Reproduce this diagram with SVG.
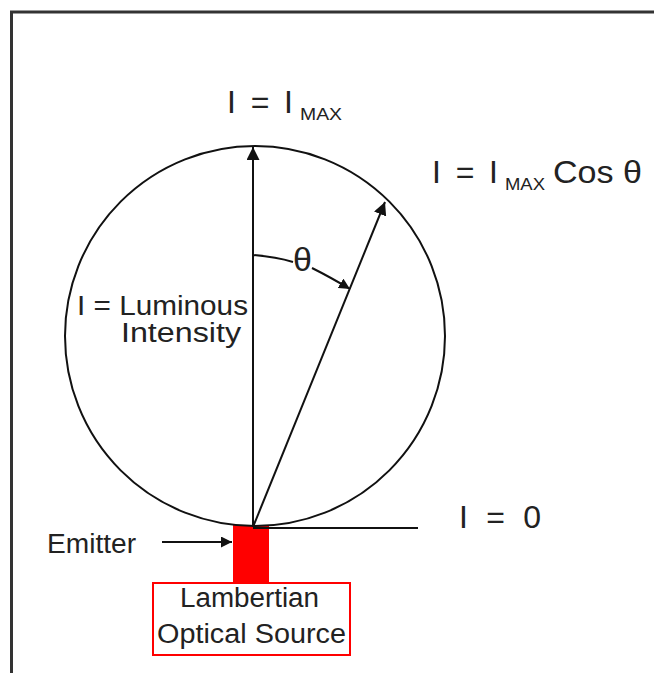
<svg xmlns="http://www.w3.org/2000/svg" width="654" height="673" viewBox="0 0 654 673">
  <defs>
    <marker id="ah" markerUnits="userSpaceOnUse" markerWidth="13" markerHeight="13" viewBox="0 0 12 12" refX="12" refY="6" orient="auto">
      <path d="M0,0 L12,6 L0,12 z" fill="#111"/>
    </marker>
    <marker id="ahs" markerUnits="userSpaceOnUse" markerWidth="11" markerHeight="11" viewBox="0 0 12 12" refX="12" refY="6" orient="auto">
      <path d="M0,0 L12,6 L0,12 z" fill="#111"/>
    </marker>
  </defs>
  <style>
    .ln { stroke: #111; stroke-width: 2; fill: none; }
    .big { font-family: "Liberation Sans", Arial, sans-serif; font-size: 32px; fill: #222; }
    .sub { font-family: "Liberation Sans", Arial, sans-serif; font-size: 17px; fill: #222; }
    .lbl { font-family: "Liberation Sans", Arial, sans-serif; font-size: 27px; fill: #222; }
  </style>
  <rect width="654" height="673" fill="#fff"/>
  <rect x="11.5" y="12" width="700" height="700" fill="none" stroke="#333" stroke-width="3"/>

  <g id="source">
    <rect x="233" y="525" width="36" height="58" fill="#ff0000"/>
    <rect x="153" y="583" width="197" height="72" fill="#fff" stroke="#ff0000" stroke-width="2"/>
    <text class="lbl" x="180" y="607" textLength="139" lengthAdjust="spacingAndGlyphs">Lambertian</text>
    <text class="lbl" x="157" y="643" textLength="189" lengthAdjust="spacingAndGlyphs">Optical Source</text>
  </g>

  <g id="circle">
    <circle cx="255" cy="336" r="190" class="ln"/>
  </g>

  <g id="connectors">
    <line x1="253" y1="527" x2="253" y2="147" class="ln" marker-end="url(#ah)"/>
    <line x1="253" y1="527" x2="385" y2="202" class="ln" marker-end="url(#ah)"/>
    <line x1="253" y1="528" x2="418" y2="528" class="ln"/>
    <path d="M253,255 Q276,257 293,262" class="ln"/>
    <path d="M312,268 Q330,277 350,289" class="ln" marker-end="url(#ahs)"/>
    <line x1="162" y1="542" x2="232" y2="542" class="ln" marker-end="url(#ahs)"/>
  </g>

  <g id="labels">
    <text class="big" x="227" y="113" textLength="66" lengthAdjust="spacing">I = I</text>
    <text class="sub" x="300" y="120" textLength="42" lengthAdjust="spacingAndGlyphs">MAX</text>
    <text class="big" x="432" y="183" textLength="66" lengthAdjust="spacing">I = I</text>
    <text class="sub" x="505" y="190" textLength="40" lengthAdjust="spacingAndGlyphs">MAX</text>
    <text class="big" x="553" y="183" textLength="89" lengthAdjust="spacingAndGlyphs">Cos θ</text>
    <text class="big" x="459" y="528" textLength="82" lengthAdjust="spacing">I = 0</text>
    <text class="big" x="302.5" y="271" text-anchor="middle" style="font-size:34px">θ</text>
    <text class="lbl" x="77" y="315" textLength="171" lengthAdjust="spacingAndGlyphs">I = Luminous</text>
    <text class="lbl" x="121" y="342" textLength="120" lengthAdjust="spacingAndGlyphs">Intensity</text>
    <text class="lbl" x="47" y="553" textLength="89" lengthAdjust="spacingAndGlyphs">Emitter</text>
  </g>
</svg>
